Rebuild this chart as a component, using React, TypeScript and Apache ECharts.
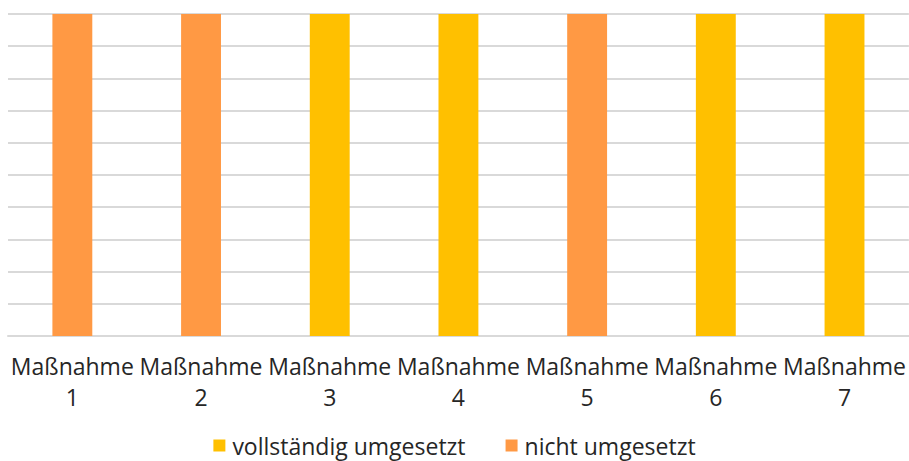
import React, { useEffect, useRef } from "react";
import * as echarts from "echarts";

const categories = ["Maßnahme\n1", "Maßnahme\n2", "Maßnahme\n3", "Maßnahme\n4", "Maßnahme\n5", "Maßnahme\n6", "Maßnahme\n7"];
const vollstaendig = [0, 0, 1, 1, 0, 1, 1];
const nicht = [1, 1, 0, 0, 1, 0, 0];
const seriesNames = ["vollständig umgesetzt", "nicht umgesetzt"];
const colors = ["#FFC000", "#FF9944"];

export default function App() {
  const ref = useRef<HTMLDivElement>(null);
  useEffect(() => {
    if (!ref.current) return;
    const chart = echarts.init(ref.current, null, { renderer: "svg" });
    const font = "'Open Sans', 'Noto Sans', sans-serif";
    chart.setOption({
      animation: false,
      grid: { left: 8, right: 0, top: 14, bottom: 125, containLabel: false },
      legend: {
        bottom: -1,
        left: "center",
        itemWidth: 12,
        itemHeight: 12,
        itemGap: 40,
        icon: "rect",
        textStyle: { fontFamily: font, fontSize: 23, color: "#262626", padding: [0, 0, 0, 2] },
        data: seriesNames,
      },
      xAxis: {
        type: "category",
        data: categories,
        axisLine: { lineStyle: { color: "#d9d9d9", width: 2 } },
        axisTick: { show: false },
        axisLabel: {
          fontFamily: font,
          fontSize: 23,
          color: "#262626",
          lineHeight: 31,
          margin: 14,
          interval: 0,
        },
      },
      yAxis: {
        type: "value",
        min: 0,
        max: 1,
        interval: 0.1,
        axisLabel: { show: false },
        axisLine: { show: false },
        axisTick: { show: false },
        splitLine: { lineStyle: { color: "#d9d9d9", width: 2 } },
      },
      series: [
        { name: seriesNames[0], type: "bar", stack: "s", data: vollstaendig, barWidth: "31%", itemStyle: { color: colors[0] } },
        { name: seriesNames[1], type: "bar", stack: "s", data: nicht, barWidth: "31%", itemStyle: { color: colors[1] } },
      ],
    });
    return () => chart.dispose();
  }, []);
  return <div ref={ref} style={{ width: 909, height: 461, position: "absolute", left: 0, top: 0 }} />;
}
